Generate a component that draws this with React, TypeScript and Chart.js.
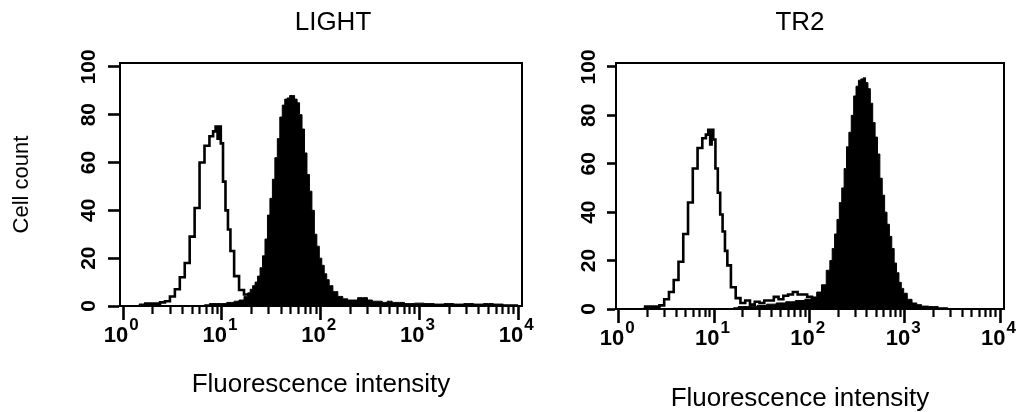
import React, { useEffect, useRef } from "react";
import { Chart, registerables } from "chart.js";

Chart.register(...registerables);

const FONT = "'Liberation Sans', Arial, Helvetica, sans-serif";

// ---- text ----
const panelTitles = ["LIGHT", "TR2"];
const yAxisTitle = "Cell count";
const xAxisTitle = "Fluorescence intensity";

// ---- axes ----
const xMajorTicks = [1, 10, 100, 1000, 10000];
const xMajorBase = "10";
const xMajorExponents = ["0", "1", "2", "3", "4"];
const xMinorTicks = [2, 3, 4, 5, 6, 7, 8, 9, 20, 30, 40, 50, 60, 70, 80, 90, 200, 300, 400, 500, 600, 700, 800, 900, 2000, 3000, 4000, 5000, 6000, 7000, 8000, 9000];
const yMajorTicks = [0, 20, 40, 60, 80, 100];
const yMinorTicks = [4, 8, 12, 16, 24, 28, 32, 36, 44, 48, 52, 56, 64, 68, 72, 76, 84, 88, 92, 96];
const xMin = 0.932;
const xMax = 10960;
const yMax = 101.6;

// ---- data: channel position (log10 of intensity) and cell count ----
// LIGHT, open (control) histogram
const lightOpenLog = [0.15, 0.2, 0.25, 0.3, 0.35, 0.4, 0.45, 0.5, 0.55, 0.6, 0.65, 0.7, 0.75, 0.8, 0.85, 0.9, 0.925, 0.95, 0.965, 0.98, 1.0, 1.025, 1.05, 1.075, 1.1, 1.15, 1.2, 1.25, 1.3, 1.35, 1.4, 1.45];
const lightOpenCount = [0, 0.5, 1, 1, 1, 1.5, 2, 4, 7, 12, 18, 29, 41, 60, 67, 71, 73, 75, 70, 75, 68, 52, 40, 32, 23, 12.5, 6.7, 4.8, 3.5, 2, 1, 0];
// LIGHT, filled (stained) histogram
const lightFilledLog = [0.8, 0.85, 0.9, 1.0, 1.1, 1.15, 1.2, 1.25, 1.275, 1.3, 1.325, 1.35, 1.375, 1.4, 1.425, 1.45, 1.475, 1.5, 1.525, 1.55, 1.575, 1.6, 1.625, 1.65, 1.675, 1.7, 1.725, 1.75, 1.775, 1.8, 1.825, 1.85, 1.875, 1.9, 1.925, 1.95, 1.975, 2.0, 2.025, 2.05, 2.075, 2.1, 2.15, 2.2, 2.25, 2.3, 2.35, 2.4, 2.45, 2.5, 2.55, 2.6, 2.65, 2.7, 2.75, 2.8, 2.9, 3.0, 3.1, 3.2, 3.3, 3.4, 3.5, 3.6, 3.7, 3.8, 3.9, 4.0];
const lightFilledCount = [0, 0.5, 1, 1, 1.5, 2, 2.5, 4, 5.5, 7, 8.5, 10, 12.5, 16, 21, 28, 38, 45, 53, 62, 70, 79, 84, 86.5, 87, 88, 88, 86.5, 85, 80, 74, 64, 55, 48, 40, 30, 25, 20, 17, 13.5, 11, 8.5, 6, 4, 3, 2.5, 2.5, 3.5, 3.5, 2.5, 2, 2, 1.5, 2, 1.5, 1.5, 1, 1.2, 1, 0.8, 1, 0.8, 1, 0.8, 1, 0.8, 0.5, 0.5];
// TR2, open (control) histogram
const tr2OpenLog = [0.25, 0.3, 0.35, 0.4, 0.45, 0.5, 0.55, 0.6, 0.65, 0.7, 0.75, 0.8, 0.85, 0.9, 0.925, 0.95, 0.965, 0.98, 1.0, 1.025, 1.05, 1.075, 1.1, 1.125, 1.15, 1.2, 1.25, 1.3, 1.35, 1.4, 1.45, 1.5, 1.55, 1.6, 1.65, 1.7, 1.75, 1.8, 1.85, 1.9, 1.95, 2.0, 2.05, 2.1, 2.2, 2.3];
const tr2OpenCount = [0, 1, 1, 1, 1.5, 4, 7, 12, 19.5, 31, 44, 58, 66.5, 70.5, 72, 74, 68, 74, 70, 58, 48, 39, 32, 24, 18, 9, 4.5, 2.5, 3.5, 1.8, 3, 2.5, 3.5, 3.5, 5, 4, 5.5, 6, 7, 6, 6, 5, 4, 3, 1, 0];
// TR2, filled (stained) histogram
const tr2FilledLog = [1.2, 1.3, 1.4, 1.5, 1.6, 1.7, 1.8, 1.9, 2.0, 2.05, 2.1, 2.15, 2.2, 2.225, 2.25, 2.275, 2.3, 2.325, 2.35, 2.375, 2.4, 2.425, 2.45, 2.475, 2.5, 2.525, 2.55, 2.575, 2.6, 2.625, 2.65, 2.675, 2.7, 2.725, 2.75, 2.775, 2.8, 2.825, 2.85, 2.875, 2.9, 2.925, 2.95, 2.975, 3.0, 3.05, 3.1, 3.15, 3.2, 3.3, 3.4, 3.5];
const tr2FilledCount = [0.5, 1, 1, 1.5, 2, 2.5, 3, 3.5, 4, 5, 7, 10, 16, 20, 25, 31, 37, 44, 50, 58, 67, 73, 80, 88, 92, 94.5, 95, 95.5, 93.5, 91, 85, 77, 71, 64, 54, 47, 40, 35, 30, 25, 19, 15, 11, 8.5, 6.5, 4, 2.5, 1.8, 1.2, 1, 0.5, 0];

function toPoints(logs: number[], counts: number[]) {
  return logs.map((e, i) => ({ x: Math.pow(10, e), y: counts[i] }));
}

type PanelProps = {
  title: string;
  openLog: number[];
  openCount: number[];
  filledLog: number[];
  filledCount: number[];
  width: number;
  left: number;
  yAxisWidth: number;
  rightSpace: number;
  yMajorLen: number;
  yMinorLen: number;
  yLabelPad: number;
  showYTitle: boolean;
  xTitleOnAxis: boolean;
};

function Panel(p: PanelProps) {
  const ref = useRef<HTMLCanvasElement | null>(null);
  useEffect(() => {
    if (!ref.current) return;
    const xAxisHeight = p.xTitleOnAxis ? 106 : 77;
    const chart = new Chart(ref.current, {
      type: "line",
      data: {
        datasets: [
          {
            label: "control",
            data: toPoints(p.openLog, p.openCount),
            borderColor: "#000",
            borderWidth: 2.6,
            fill: false,
            stepped: "middle",
            pointRadius: 0,
            order: 0,
          },
          {
            label: "stained",
            data: toPoints(p.filledLog, p.filledCount),
            borderColor: "#000",
            backgroundColor: "#000",
            borderWidth: 1,
            fill: "origin",
            stepped: "middle",
            pointRadius: 0,
            order: 1,
          },
        ],
      },
      options: {
        responsive: false,
        animation: false,
        events: [],
        layout: { padding: 0 },
        plugins: {
          legend: { display: false },
          tooltip: { enabled: false },
          title: {
            display: true,
            text: p.title,
            color: "#000",
            font: { family: FONT, size: 26, weight: "normal", lineHeight: 1.2 },
            padding: { top: 7.4, bottom: 24.4 },
          },
          subtitle: {
            display: !p.xTitleOnAxis,
            position: "bottom",
            text: xAxisTitle,
            color: "#000",
            font: { family: FONT, size: 26, weight: "normal", lineHeight: 1 },
            padding: { top: 0, bottom: 0 },
          },
        },
        scales: {
          x: {
            type: "logarithmic",
            position: "bottom",
            weight: 2,
            min: xMin,
            max: xMax,
            afterBuildTicks: (a: any) => {
              a.ticks = xMajorTicks.map((v) => ({ value: v }));
            },
            afterFit: (a: any) => {
              a.height = xAxisHeight;
            },
            ticks: {
              autoSkip: false,
              minRotation: 0,
              maxRotation: 0,
              padding: 3,
              labelOffset: -7,
              color: "#000",
              font: { family: FONT, size: 22, weight: "bold" },
              callback: () => xMajorBase,
            },
            grid: { display: true, drawOnChartArea: false, drawTicks: true, tickLength: 14, tickWidth: 2.6, tickColor: "#000" },
            border: { display: true, width: 2, color: "#000" },
            title: {
              display: p.xTitleOnAxis,
              text: xAxisTitle,
              color: "#000",
              font: { family: FONT, size: 26, weight: "normal", lineHeight: 1.2 },
              padding: { top: 0, bottom: 11.4 },
            },
          },
          xExp: {
            type: "logarithmic",
            position: "bottom",
            weight: 1,
            min: xMin,
            max: xMax,
            afterBuildTicks: (a: any) => {
              a.ticks = xMajorTicks.map((v) => ({ value: v }));
            },
            afterFit: (a: any) => {
              a.height = 0;
            },
            ticks: {
              autoSkip: false,
              minRotation: 0,
              maxRotation: 0,
              mirror: true,
              padding: -30,
              labelOffset: 11,
              color: "#000",
              font: { family: FONT, size: 17, weight: "bold" },
              callback: (_v: any, i: number) => xMajorExponents[i],
            },
            grid: { display: false, drawOnChartArea: false, drawTicks: false },
            border: { display: false },
          },
          xMinor: {
            type: "logarithmic",
            position: "bottom",
            weight: 0,
            min: xMin,
            max: xMax,
            afterBuildTicks: (a: any) => {
              a.ticks = xMinorTicks.map((v) => ({ value: v }));
            },
            afterFit: (a: any) => {
              a.height = 0;
            },
            ticks: { display: false },
            grid: { display: true, drawOnChartArea: false, drawTicks: true, tickLength: 8, tickWidth: 2.2, tickColor: "#000" },
            border: { display: false },
          },
          y: {
            type: "linear",
            position: "left",
            weight: 0,
            min: 0,
            max: yMax,
            afterBuildTicks: (a: any) => {
              a.ticks = yMajorTicks.map((v) => ({ value: v }));
            },
            afterFit: (a: any) => {
              a.width = p.yAxisWidth;
            },
            ticks: {
              autoSkip: false,
              minRotation: 90,
              maxRotation: 90,
              crossAlign: "center",
              padding: p.yLabelPad,
              color: "#000",
              font: { family: FONT, size: 21, weight: "bold" },
              callback: (v: any) => String(v),
            },
            grid: { display: true, drawOnChartArea: false, drawTicks: true, tickLength: p.yMajorLen, tickWidth: 2.6, tickColor: "#000" },
            border: { display: true, width: 2, color: "#000" },
            title: {
              display: p.showYTitle,
              text: yAxisTitle,
              color: "#000",
              font: { family: FONT, size: 22, weight: "normal", lineHeight: 1.2 },
              padding: { top: 8.8, bottom: 0 },
            },
          },
          yMinor: {
            type: "linear",
            position: "left",
            weight: 1,
            min: 0,
            max: yMax,
            afterBuildTicks: (a: any) => {
              a.ticks = yMinorTicks.map((v) => ({ value: v }));
            },
            afterFit: (a: any) => {
              a.width = 0;
            },
            ticks: { display: false },
            grid: { display: true, drawOnChartArea: false, drawTicks: true, tickLength: p.yMinorLen, tickWidth: 2.2, tickColor: "#000" },
            border: { display: false },
          },
          xTop: {
            type: "linear",
            position: "top",
            min: 0,
            max: 1,
            afterFit: (a: any) => {
              a.height = 0;
            },
            ticks: { display: false },
            grid: { display: false, drawTicks: false },
            border: { display: true, width: 2, color: "#000" },
          },
          yRight: {
            type: "linear",
            position: "right",
            min: 0,
            max: 1,
            afterFit: (a: any) => {
              a.width = p.rightSpace;
            },
            ticks: { display: false },
            grid: { display: false, drawTicks: false },
            border: { display: true, width: 2, color: "#000" },
          },
        },
      } as any,
    });
    return () => chart.destroy();
  }, []);
  return (
    <canvas
      ref={ref}
      width={p.width}
      height={412}
      style={{ position: "absolute", left: p.left, top: 0, width: p.width, height: 412 }}
    />
  );
}

export default function App() {
  return (
    <div
      style={{
        position: "fixed",
        left: 0,
        top: 0,
        width: 1021,
        height: 412,
        overflow: "hidden",
        background: "#fff",
      }}
    >
      <Panel
        title={panelTitles[0]}
        openLog={lightOpenLog}
        openCount={lightOpenCount}
        filledLog={lightFilledLog}
        filledCount={lightFilledCount}
        width={666}
        left={0}
        yAxisWidth={120}
        rightSpace={144}
        yMajorLen={12}
        yMinorLen={7}
        yLabelPad={1}
        showYTitle={true}
        xTitleOnAxis={true}
      />
      <Panel
        title={panelTitles[1]}
        openLog={tr2OpenLog}
        openCount={tr2OpenCount}
        filledLog={tr2FilledLog}
        filledCount={tr2FilledCount}
        width={480}
        left={560}
        yAxisWidth={56}
        rightSpace={36}
        yMajorLen={9}
        yMinorLen={5}
        yLabelPad={0}
        showYTitle={false}
        xTitleOnAxis={false}
      />
    </div>
  );
}
